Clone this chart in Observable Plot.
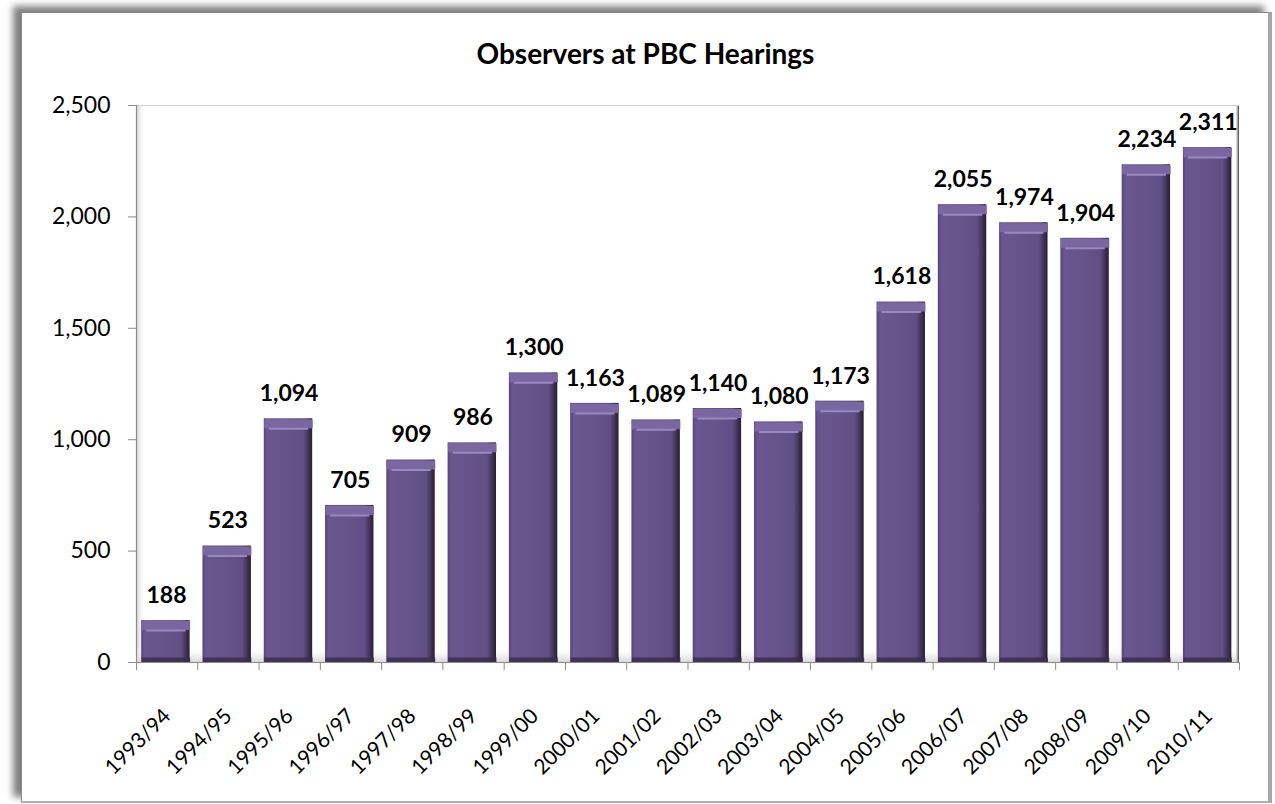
<!DOCTYPE html>
<html><head><meta charset="utf-8">
<script src="https://cdn.jsdelivr.net/npm/d3@7"></script>
<script src="https://cdn.jsdelivr.net/npm/@observablehq/plot@0.6"></script>
<style>
body{margin:0;background:#fff;width:1275px;height:804px;overflow:hidden;position:relative;font-family:Lato,sans-serif}
#frame{position:absolute;left:21px;top:12px;width:1246px;height:788px;border-left:1px solid #8a8a8a;border-top:1px solid #8a8a8a;border-right:4px solid #a6a6a6;border-bottom:2px solid #b0b0b0;box-shadow:-8px -6px 7px rgba(0,0,0,0.5);background:#fff}
#title{position:absolute;left:22px;width:1247px;top:36px;text-align:center;font-weight:bold;font-size:28px;line-height:34px;color:#000}
#chart{position:absolute;left:0;top:80px}
</style></head><body>
<div id="frame"></div>
<div id="title">Observers at PBC Hearings</div>
<div id="chart"></div>
<script>
const years = ["1993/94","1994/95","1995/96","1996/97","1997/98","1998/99","1999/00","2000/01","2001/02","2002/03","2003/04","2004/05","2005/06","2006/07","2007/08","2008/09","2009/10","2010/11"];
const observers = [188,523,1094,705,909,986,1300,1163,1089,1140,1080,1173,1618,2055,1974,1904,2234,2311];
const yTicks = [0,500,1000,1500,2000,2500];

const data = years.map((year, i) => ({i, year, value: observers[i]}));
const edges = d3.range(years.length + 1);
const fmt = d3.format(",");

const chart = Plot.plot({
  width: 1275, height: 720,
  marginTop: 25, marginBottom: 138, marginLeft: 136, marginRight: 36,
  x: {domain: [0, years.length], axis: null},
  y: {domain: [0, 2500], axis: null},
  style: {fontFamily: "Lato, sans-serif", background: "transparent", overflow: "visible", color: "#000"},
  marks: [
    Plot.rect([0], {x1: 0, x2: 0.16, y1: 0, y2: 2500, fill: "url(#leftWall)"}),
    Plot.rect([0], {x1: 0, x2: years.length, y1: 0, y2: 70, fill: "url(#floor)"}),
    Plot.rect([0], {x1: 17.93, x2: 18, y1: 0, y2: 2500, fill: "url(#rightWall)"}),
    Plot.ruleY([2500], {stroke: "#d2d2d2"}),
    Plot.rectY(data, {x1: d => d.i + 0.085, x2: d => d.i + 0.875, y: "value", fill: "url(#barGrad)"}),
    Plot.link(data, {x1: d => d.i + 0.085, x2: d => d.i + 0.875, y1: "value", y2: "value", stroke: "#7a67a1", strokeWidth: 9, dy: 5}),
    Plot.link(data, {x1: d => d.i + 0.16, x2: d => d.i + 0.80, y1: "value", y2: "value", stroke: "#9a88bf", strokeWidth: 2, dy: 10}),
    Plot.link(data, {x1: d => d.i + 0.085, x2: d => d.i + 0.875, y1: 0, y2: 0, stroke: "#3a2d50", strokeWidth: 5, dy: -2.5, strokeOpacity: 0.85}),
    Plot.ruleX([0], {stroke: "#8c8c8c", strokeWidth: 1.2}),
    Plot.ruleY([0], {stroke: "#8c8c8c", strokeWidth: 1.2}),
    Plot.axisY(yTicks, {anchor: "left", label: null, tickSize: 8, tickPadding: 18, tickFormat: fmt, fontSize: 23, stroke: "#8c8c8c"}),
    Plot.axisX(edges, {anchor: "bottom", label: null, tickSize: 8, tickFormat: () => "", stroke: "#8c8c8c"}),
    Plot.text(data, {x: d => d.i + 0.49, y: "value", text: d => fmt(d.value), dy: -25, fontSize: 23, fontWeight: "bold", fill: "#000"}),
    Plot.text(data, {x: d => d.i + 0.5, y: 0, text: "year", rotate: -45, textAnchor: "end", lineAnchor: "middle", dy: 50, fontSize: 21, fill: "#000"})
  ]
});

d3.select(chart).insert("defs", ":first-child").html(`
  <linearGradient id="barGrad" x1="0" y1="0" x2="1" y2="0">
    <stop offset="0" stop-color="#574379"/>
    <stop offset="0.07" stop-color="#6a578f"/>
    <stop offset="0.5" stop-color="#66538a"/>
    <stop offset="0.82" stop-color="#614e84"/>
    <stop offset="0.93" stop-color="#3e3154"/>
    <stop offset="1" stop-color="#271d36"/>
  </linearGradient>
  <linearGradient id="leftWall" x1="0" y1="0" x2="1" y2="0">
    <stop offset="0" stop-color="#cfcfcf"/>
    <stop offset="1" stop-color="#ffffff" stop-opacity="0"/>
  </linearGradient>
  <linearGradient id="floor" x1="0" y1="0" x2="0" y2="1">
    <stop offset="0" stop-color="#ffffff" stop-opacity="0"/>
    <stop offset="1" stop-color="#d8d8d8"/>
  </linearGradient>
  <linearGradient id="rightWall" x1="0" y1="0" x2="1" y2="0">
    <stop offset="0" stop-color="#ffffff" stop-opacity="0"/>
    <stop offset="1" stop-color="#333333"/>
  </linearGradient>
`);

document.getElementById("chart").appendChild(chart);
</script>
</body></html>
